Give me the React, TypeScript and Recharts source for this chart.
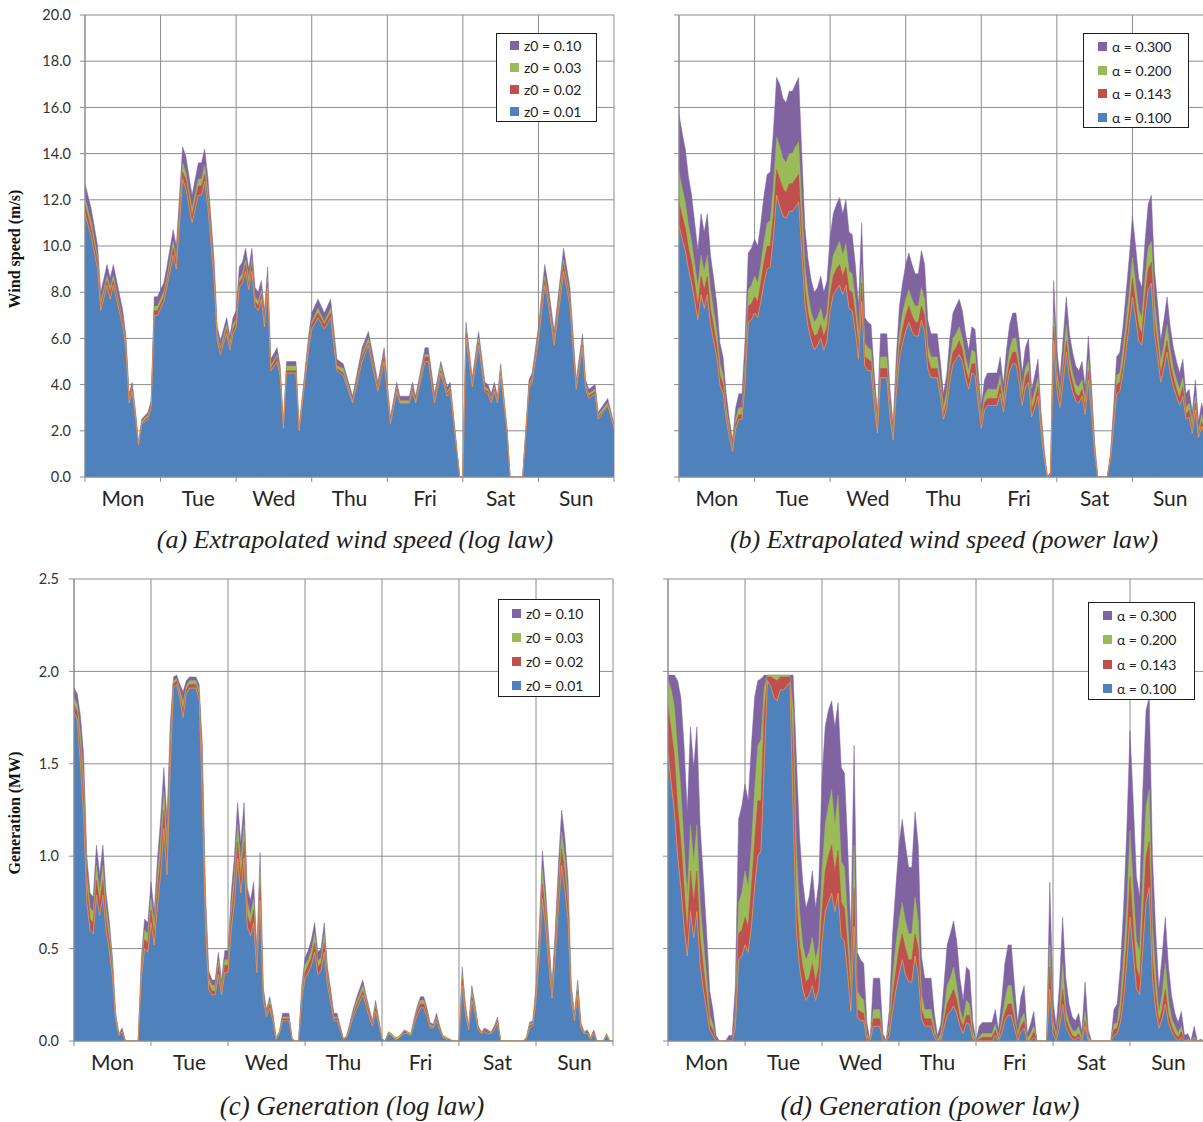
import React from 'react';
import { AreaChart, Area, XAxis, YAxis, CartesianGrid, Legend } from 'recharts';

// one week on the x axis, hours 0..168
const DAYS = ['Mon', 'Tue', 'Wed', 'Thu', 'Fri', 'Sat', 'Sun'];
const DAY_TICKS = [0, 24, 48, 72, 96, 120, 144, 168];
const HOURS = Array.from({ length: 169 }, (_, i) => i);
const SPEED_TICKS = [0, 2, 4, 6, 8, 10, 12, 14, 16, 18, 20];
const GEN_TICKS = [0, 0.5, 1, 1.5, 2, 2.5];

const LOG_NAMES = ['z0 = 0.10', 'z0 = 0.03', 'z0 = 0.02', 'z0 = 0.01'];
const POW_NAMES = ['α = 0.300', 'α = 0.200', 'α = 0.143', 'α = 0.100'];
const COLORS = ['#8064A2', '#9BBB59', '#C0504D', '#4F81BD'];
const EDGE = '#F79646';
const GRID = '#8c8c8c';
const FONT = 'Lato, "Open Sans", sans-serif';

// (a) wind speed, log law (m/s)
const hoursA = [0, 2, 4, 5, 7, 8, 9, 12, 13, 14, 15, 16, 17, 18, 20, 21, 22, 23, 25, 26, 28, 29, 31, 32, 34, 36, 37, 38, 39, 41,
  42, 43, 44, 45, 46, 47, 48, 49, 50, 51, 52, 53, 54, 55, 56, 57, 58, 59, 61, 62, 63, 64, 67, 68, 71, 72, 74, 76, 78, 80,
  82, 85, 88, 90, 91, 93, 95, 97, 99, 100, 103, 104, 105, 107, 108, 109, 111, 113, 115, 116, 119, 120, 121, 123, 125, 127, 128, 129, 130, 131,
  132, 134, 135, 139, 141, 142, 144, 146, 147, 149, 151, 152, 154, 156, 158, 159, 160, 162, 163, 166, 168];
const a010 = [12.7, 11.6, 10.0, 8.0, 9.2, 8.6, 9.2, 7.2, 6.1, 3.6, 4.1, 2.9, 1.5, 2.5, 2.8, 3.3, 7.8, 7.8, 8.4, 9.1,
  10.7, 10.0, 14.3, 13.9, 12.2, 13.6, 13.6, 14.2, 13.0, 9.4, 6.5, 5.9, 6.4, 6.9, 6.1, 6.9, 7.2, 9.1, 9.3, 9.9,
  9.0, 9.9, 8.2, 8.0, 8.5, 7.2, 9.1, 5.1, 5.6, 4.8, 2.3, 5.0, 5.0, 2.2, 6.1, 7.1, 7.7, 7.1, 7.7, 5.1,
  4.9, 3.5, 5.6, 6.3, 5.6, 4.1, 5.6, 2.6, 4.1, 3.5, 3.5, 4.1, 3.5, 4.9, 5.6, 5.6, 3.6, 5.0, 3.9, 4.1,
  0, 0, 6.7, 4.3, 6.3, 4.1, 4.0, 3.6, 4.1, 3.5, 4.9, 2.2, 0, 0, 4.2, 4.5, 6.5, 9.2, 8.4, 6.3,
  8.7, 9.9, 8.2, 4.2, 6.2, 4.2, 3.8, 4.0, 2.8, 3.4, 2.3];
const a003 = [12.1, 11.0, 9.5, 7.6, 8.7, 8.2, 8.7, 6.8, 5.8, 3.4, 3.9, 2.8, 1.4, 2.4, 2.7, 3.1, 7.4, 7.4, 8.0, 8.6,
  10.2, 9.5, 13.6, 13.2, 11.6, 12.9, 12.9, 13.5, 12.4, 8.9, 6.2, 5.6, 6.1, 6.6, 5.8, 6.6, 6.8, 8.6, 8.8, 9.4,
  8.6, 9.4, 7.8, 7.6, 8.1, 6.8, 8.6, 4.8, 5.3, 4.6, 2.2, 4.8, 4.8, 2.1, 5.8, 6.7, 7.3, 6.7, 7.3, 4.8,
  4.7, 3.3, 5.3, 6.0, 5.3, 3.9, 5.3, 2.5, 3.9, 3.3, 3.3, 3.9, 3.3, 4.7, 5.3, 5.3, 3.4, 4.8, 3.7, 3.9,
  0, 0, 6.4, 4.1, 6.0, 3.9, 3.8, 3.4, 3.9, 3.3, 4.7, 2.1, 0, 0, 4.0, 4.3, 6.2, 8.7, 8.0, 6.0,
  8.3, 9.4, 7.8, 4.0, 5.9, 4.0, 3.6, 3.8, 2.7, 3.2, 2.2];
const a002 = [11.8, 10.7, 9.3, 7.4, 8.5, 8.0, 8.5, 6.7, 5.6, 3.3, 3.8, 2.7, 1.4, 2.3, 2.6, 3.1, 7.2, 7.2, 7.8, 8.4,
  9.9, 9.3, 13.2, 12.9, 11.3, 12.6, 12.6, 13.1, 12.0, 8.7, 6.0, 5.5, 5.9, 6.4, 5.6, 6.4, 6.7, 8.4, 8.6, 9.2,
  8.3, 9.2, 7.6, 7.4, 7.9, 6.7, 8.4, 4.7, 5.2, 4.4, 2.1, 4.6, 4.6, 2.0, 5.6, 6.6, 7.1, 6.6, 7.1, 4.7,
  4.5, 3.2, 5.2, 5.8, 5.2, 3.8, 5.2, 2.4, 3.8, 3.2, 3.2, 3.8, 3.2, 4.5, 5.2, 5.2, 3.3, 4.6, 3.6, 3.8,
  0, 0, 6.2, 4.0, 5.8, 3.8, 3.7, 3.3, 3.8, 3.2, 4.5, 2.0, 0, 0, 3.9, 4.2, 6.0, 8.5, 7.8, 5.8,
  8.0, 9.2, 7.6, 3.9, 5.7, 3.9, 3.5, 3.7, 2.6, 3.1, 2.1];
const a001 = [11.4, 10.4, 9.0, 7.2, 8.3, 7.7, 8.3, 6.5, 5.5, 3.2, 3.7, 2.6, 1.4, 2.3, 2.5, 3.0, 7.0, 7.0, 7.6, 8.2,
  9.6, 9.0, 12.9, 12.5, 11.0, 12.2, 12.2, 12.8, 11.7, 8.5, 5.9, 5.3, 5.8, 6.2, 5.5, 6.2, 6.5, 8.2, 8.4, 8.9,
  8.1, 8.9, 7.4, 7.2, 7.7, 6.5, 8.2, 4.6, 5.0, 4.3, 2.1, 4.5, 4.5, 2.0, 5.5, 6.4, 6.9, 6.4, 6.9, 4.6,
  4.4, 3.2, 5.0, 5.7, 5.0, 3.7, 5.0, 2.3, 3.7, 3.2, 3.2, 3.7, 3.2, 4.4, 5.0, 5.0, 3.2, 4.5, 3.5, 3.7,
  0, 0, 6.0, 3.9, 5.7, 3.7, 3.6, 3.2, 3.7, 3.2, 4.4, 2.0, 0, 0, 3.8, 4.1, 5.9, 8.3, 7.6, 5.7,
  7.8, 8.9, 7.4, 3.8, 5.6, 3.8, 3.4, 3.6, 2.5, 3.1, 2.1];

// (b) wind speed, power law (m/s), hourly
const b300 = [15.7, 14.9, 14.2, 13.0, 12.2, 11.0, 9.8, 11.4, 10.6, 11.4, 9.6, 8.6, 7.5, 5.8, 5.2, 3.6, 2.5, 1.6, 3.0, 3.6,
  3.6, 6.0, 9.7, 9.9, 10.3, 10.0, 11.0, 12.2, 13.1, 13.2, 15.0, 17.3, 17.0, 16.4, 16.2, 16.7, 16.7, 17.0, 17.3, 14.0,
  10.8, 9.4, 8.5, 8.0, 8.2, 8.7, 8.0, 8.5, 10.4, 11.4, 11.8, 12.1, 11.4, 12.0, 10.6, 10.5, 9.2, 7.4, 11.0, 6.9,
  6.7, 6.6, 4.5, 2.8, 6.2, 6.2, 6.2, 3.8, 2.3, 5.2, 7.4, 8.4, 9.2, 9.7, 9.2, 8.8, 8.8, 9.8, 9.2, 6.8,
  6.2, 6.2, 6.2, 5.0, 3.6, 4.4, 6.0, 7.1, 7.4, 7.7, 7.2, 6.2, 5.5, 6.5, 6.4, 4.6, 3.0, 4.2, 4.5, 4.5,
  4.5, 4.5, 5.2, 4.0, 5.5, 6.6, 7.1, 7.1, 6.0, 4.5, 5.6, 6.0, 3.8, 4.4, 5.1, 2.8, 1.2, 0, 0.2, 8.5,
  5.5, 4.3, 6.0, 7.8, 6.2, 5.4, 4.8, 4.6, 5.0, 3.9, 6.1, 4.0, 1.5, 0, 0, 0, 0, 1.0, 3.0, 5.2,
  5.4, 6.5, 8.0, 9.5, 11.3, 10.0, 8.6, 8.2, 10.2, 11.8, 12.2, 9.0, 7.5, 5.9, 6.8, 7.8, 6.5, 5.6, 5.0, 4.5,
  5.1, 3.6, 3.8, 2.8, 4.2, 2.4, 3.2, 2.6, 2.4];
const b200 = [13.2, 12.5, 11.9, 10.9, 10.2, 9.2, 8.2, 9.6, 8.9, 9.6, 8.1, 7.2, 6.3, 4.9, 4.4, 3.0, 2.1, 1.3, 2.5, 3.0,
  3.0, 5.0, 8.1, 8.3, 8.7, 8.4, 9.2, 10.2, 11.0, 11.1, 12.6, 14.7, 14.3, 13.8, 13.6, 14.0, 14.0, 14.3, 14.5, 11.8,
  9.1, 7.9, 7.1, 6.7, 6.9, 7.3, 6.7, 7.1, 8.7, 9.6, 9.9, 10.2, 9.6, 10.1, 8.9, 8.8, 7.7, 6.2, 9.2, 5.8,
  5.6, 5.5, 3.8, 2.4, 5.2, 5.2, 5.2, 3.2, 1.9, 4.4, 6.2, 7.1, 7.7, 8.1, 7.7, 7.4, 7.4, 8.2, 7.7, 5.7,
  5.2, 5.2, 5.2, 4.2, 3.0, 3.7, 5.0, 6.0, 6.2, 6.5, 6.0, 5.2, 4.6, 5.5, 5.4, 3.9, 2.5, 3.5, 3.8, 3.8,
  3.8, 3.8, 4.4, 3.4, 4.6, 5.5, 6.0, 6.0, 5.0, 3.8, 4.7, 5.0, 3.2, 3.7, 4.3, 2.4, 1.0, 0, 0.2, 7.1,
  4.6, 3.6, 5.0, 6.6, 5.2, 4.5, 4.0, 3.9, 4.2, 3.3, 5.1, 3.4, 1.3, 0, 0, 0, 0, 0.8, 2.5, 4.4,
  4.5, 5.5, 6.7, 8.0, 9.5, 8.4, 7.2, 6.9, 8.6, 9.9, 10.2, 7.6, 6.3, 5.0, 5.7, 6.6, 5.5, 4.7, 4.2, 3.8,
  4.3, 3.0, 3.2, 2.4, 3.5, 2.0, 2.7, 2.2, 2.0];
const b143 = [11.9, 11.3, 10.8, 9.9, 9.3, 8.4, 7.4, 8.7, 8.1, 8.7, 7.3, 6.5, 5.7, 4.4, 4.0, 2.7, 1.9, 1.2, 2.3, 2.7,
  2.7, 4.6, 7.4, 7.5, 7.8, 7.6, 8.4, 9.3, 10.0, 10.0, 11.4, 13.3, 12.9, 12.5, 12.3, 12.7, 12.7, 12.9, 13.1, 10.6,
  8.2, 7.1, 6.5, 6.1, 6.2, 6.6, 6.1, 6.5, 7.9, 8.7, 9.0, 9.2, 8.7, 9.1, 8.1, 8.0, 7.0, 5.6, 8.4, 5.2,
  5.1, 5.0, 3.4, 2.1, 4.7, 4.7, 4.7, 2.9, 1.7, 4.0, 5.6, 6.4, 7.0, 7.4, 7.0, 6.7, 6.7, 7.4, 7.0, 5.2,
  4.7, 4.7, 4.7, 3.8, 2.7, 3.3, 4.6, 5.4, 5.6, 5.9, 5.5, 4.7, 4.2, 4.9, 4.9, 3.5, 2.3, 3.2, 3.4, 3.4,
  3.4, 3.4, 4.0, 3.0, 4.2, 5.0, 5.4, 5.4, 4.6, 3.4, 4.3, 4.6, 2.9, 3.3, 3.9, 2.1, 0.9, 0, 0.2, 6.5,
  4.2, 3.3, 4.6, 5.9, 4.7, 4.1, 3.6, 3.5, 3.8, 3.0, 4.6, 3.0, 1.1, 0, 0, 0, 0, 0.8, 2.3, 4.0,
  4.1, 4.9, 6.1, 7.2, 8.6, 7.6, 6.5, 6.2, 7.8, 9.0, 9.3, 6.8, 5.7, 4.5, 5.2, 5.9, 4.9, 4.3, 3.8, 3.4,
  3.9, 2.7, 2.9, 2.1, 3.2, 1.8, 2.4, 2.0, 1.8];
const b100 = [10.9, 10.3, 9.8, 9.0, 8.4, 7.6, 6.8, 7.9, 7.3, 7.9, 6.6, 5.9, 5.2, 4.0, 3.6, 2.5, 1.7, 1.1, 2.1, 2.5,
  2.5, 4.1, 6.7, 6.8, 7.1, 6.9, 7.6, 8.4, 9.0, 9.1, 10.4, 12.2, 11.7, 11.3, 11.2, 11.5, 11.5, 11.7, 11.9, 9.7,
  7.5, 6.5, 5.9, 5.5, 5.7, 6.0, 5.5, 5.9, 7.2, 7.9, 8.1, 8.3, 7.9, 8.3, 7.3, 7.2, 6.3, 5.1, 7.6, 4.8,
  4.6, 4.6, 3.1, 1.9, 4.3, 4.3, 4.3, 2.6, 1.6, 3.6, 5.1, 5.8, 6.3, 6.7, 6.3, 6.1, 6.1, 6.8, 6.3, 4.7,
  4.3, 4.3, 4.3, 3.5, 2.5, 3.0, 4.1, 4.9, 5.1, 5.3, 5.0, 4.3, 3.8, 4.5, 4.4, 3.2, 2.1, 2.9, 3.1, 3.1,
  3.1, 3.1, 3.6, 2.8, 3.8, 4.6, 4.9, 4.9, 4.1, 3.1, 3.9, 4.1, 2.6, 3.0, 3.5, 1.9, 0.8, 0, 0.1, 5.9,
  3.8, 3.0, 4.1, 5.4, 4.3, 3.7, 3.3, 3.2, 3.5, 2.7, 4.2, 2.8, 1.0, 0, 0, 0, 0, 0.7, 2.1, 3.6,
  3.7, 4.5, 5.5, 6.6, 7.8, 6.9, 5.9, 5.7, 7.0, 8.1, 8.4, 6.2, 5.2, 4.1, 4.7, 5.4, 4.5, 3.9, 3.5, 3.1,
  3.5, 2.5, 2.6, 1.9, 2.9, 1.7, 2.2, 1.8, 1.7];

// (c) generation, log law (MW), hourly
const c010 = [1.91, 1.88, 1.76, 1.55, 1.0, 0.8, 0.78, 1.06, 0.9, 1.06, 0.8, 0.65, 0.45, 0.15, 0.04, 0.07, 0, 0, 0, 0,
  0, 0.45, 0.66, 0.64, 0.86, 0.7, 0.98, 1.2, 1.48, 1.2, 1.72, 1.97, 1.98, 1.93, 1.89, 1.95, 1.97, 1.97, 1.97, 1.93,
  1.6, 0.8, 0.38, 0.33, 0.33, 0.48, 0.33, 0.49, 0.49, 0.8, 1.0, 1.29, 1.07, 1.29, 0.83, 0.76, 0.86, 0.49, 1.02, 0.29,
  0.17, 0.24, 0.15, 0.02, 0.05, 0.15, 0.15, 0.15, 0.01, 0, 0, 0.3, 0.45, 0.49, 0.55, 0.64, 0.48, 0.5, 0.64, 0.4,
  0.28, 0.15, 0.15, 0.08, 0.01, 0.03, 0.1, 0.17, 0.23, 0.28, 0.33, 0.25, 0.18, 0.11, 0.22, 0.12, 0.01, 0, 0.05, 0.04,
  0.02, 0.02, 0.04, 0.06, 0.05, 0.04, 0.12, 0.19, 0.24, 0.24, 0.18, 0.1, 0.09, 0.15, 0.08, 0.03, 0.02, 0.01, 0, 0,
  0, 0.4, 0.2, 0.08, 0.3, 0.2, 0.08, 0.05, 0.07, 0.06, 0.05, 0.08, 0.13, 0, 0, 0, 0, 0, 0, 0,
  0, 0.02, 0.1, 0.11, 0.3, 0.6, 1.03, 0.82, 0.55, 0.31, 0.6, 0.96, 1.25, 1.1, 0.87, 0.3, 0.15, 0.33, 0.1, 0.05,
  0.06, 0.02, 0.06, 0, 0, 0, 0.04, 0, 0];
const c003 = [1.86, 1.82, 1.66, 1.42, 0.9, 0.72, 0.7, 0.95, 0.81, 0.95, 0.72, 0.59, 0.41, 0.13, 0.04, 0.06, 0, 0, 0, 0,
  0, 0.41, 0.6, 0.58, 0.77, 0.63, 0.88, 1.08, 1.35, 1.08, 1.62, 1.95, 1.96, 1.9, 1.83, 1.92, 1.95, 1.95, 1.95, 1.9,
  1.48, 0.72, 0.34, 0.3, 0.3, 0.43, 0.3, 0.44, 0.44, 0.72, 0.9, 1.17, 0.96, 1.17, 0.75, 0.68, 0.77, 0.44, 0.92, 0.26,
  0.15, 0.22, 0.13, 0.02, 0.05, 0.13, 0.13, 0.13, 0.01, 0, 0, 0.27, 0.41, 0.44, 0.49, 0.58, 0.43, 0.45, 0.58, 0.36,
  0.25, 0.13, 0.13, 0.07, 0.01, 0.03, 0.09, 0.15, 0.21, 0.25, 0.3, 0.23, 0.16, 0.1, 0.2, 0.11, 0.01, 0, 0.05, 0.04,
  0.02, 0.02, 0.04, 0.05, 0.05, 0.04, 0.11, 0.17, 0.22, 0.22, 0.16, 0.09, 0.08, 0.13, 0.07, 0.03, 0.02, 0.01, 0, 0,
  0, 0.36, 0.18, 0.07, 0.27, 0.18, 0.07, 0.05, 0.06, 0.05, 0.05, 0.07, 0.12, 0, 0, 0, 0, 0, 0, 0,
  0, 0.02, 0.09, 0.1, 0.27, 0.54, 0.93, 0.74, 0.49, 0.28, 0.54, 0.86, 1.13, 0.99, 0.78, 0.27, 0.13, 0.3, 0.09, 0.05,
  0.05, 0.02, 0.05, 0, 0, 0, 0.04, 0, 0];
const c002 = [1.82, 1.78, 1.58, 1.32, 0.83, 0.66, 0.64, 0.87, 0.75, 0.87, 0.66, 0.54, 0.37, 0.12, 0.03, 0.06, 0, 0, 0, 0,
  0, 0.37, 0.55, 0.53, 0.71, 0.57, 0.81, 0.99, 1.25, 0.99, 1.55, 1.93, 1.95, 1.87, 1.79, 1.9, 1.93, 1.93, 1.93, 1.87,
  1.39, 0.66, 0.31, 0.27, 0.27, 0.4, 0.27, 0.41, 0.41, 0.66, 0.83, 1.08, 0.88, 1.08, 0.68, 0.63, 0.71, 0.41, 0.84, 0.24,
  0.14, 0.2, 0.12, 0.01, 0.04, 0.12, 0.12, 0.12, 0.01, 0, 0, 0.24, 0.37, 0.41, 0.45, 0.53, 0.4, 0.42, 0.53, 0.33,
  0.23, 0.12, 0.12, 0.07, 0.01, 0.02, 0.08, 0.14, 0.19, 0.23, 0.27, 0.21, 0.15, 0.09, 0.18, 0.1, 0.01, 0, 0.04, 0.03,
  0.01, 0.01, 0.03, 0.05, 0.04, 0.03, 0.1, 0.16, 0.2, 0.2, 0.15, 0.08, 0.07, 0.12, 0.07, 0.02, 0.01, 0.01, 0, 0,
  0, 0.33, 0.16, 0.07, 0.24, 0.16, 0.07, 0.04, 0.06, 0.05, 0.04, 0.07, 0.11, 0, 0, 0, 0, 0, 0, 0,
  0, 0.01, 0.08, 0.09, 0.24, 0.5, 0.85, 0.67, 0.45, 0.25, 0.5, 0.79, 1.04, 0.9, 0.72, 0.24, 0.12, 0.27, 0.08, 0.04,
  0.05, 0.01, 0.05, 0, 0, 0, 0.03, 0, 0];
const c001 = [1.78, 1.74, 1.5, 1.22, 0.75, 0.6, 0.58, 0.79, 0.68, 0.79, 0.6, 0.49, 0.34, 0.11, 0.03, 0.05, 0, 0, 0, 0,
  0, 0.34, 0.5, 0.48, 0.64, 0.52, 0.73, 0.9, 1.15, 0.9, 1.48, 1.91, 1.93, 1.85, 1.75, 1.88, 1.91, 1.91, 1.91, 1.85,
  1.3, 0.6, 0.28, 0.25, 0.25, 0.36, 0.25, 0.37, 0.37, 0.6, 0.75, 0.99, 0.8, 0.99, 0.62, 0.57, 0.64, 0.37, 0.76, 0.22,
  0.13, 0.18, 0.11, 0.01, 0.04, 0.11, 0.11, 0.11, 0.01, 0, 0, 0.22, 0.34, 0.37, 0.41, 0.48, 0.36, 0.38, 0.48, 0.3,
  0.21, 0.11, 0.11, 0.06, 0.01, 0.02, 0.07, 0.13, 0.17, 0.21, 0.25, 0.19, 0.13, 0.08, 0.16, 0.09, 0.01, 0, 0.04, 0.03,
  0.01, 0.01, 0.03, 0.04, 0.04, 0.03, 0.09, 0.14, 0.18, 0.18, 0.13, 0.07, 0.07, 0.11, 0.06, 0.02, 0.01, 0.01, 0, 0,
  0, 0.3, 0.15, 0.06, 0.22, 0.15, 0.06, 0.04, 0.05, 0.04, 0.04, 0.06, 0.1, 0, 0, 0, 0, 0, 0, 0,
  0, 0.01, 0.07, 0.08, 0.22, 0.45, 0.77, 0.61, 0.41, 0.23, 0.45, 0.72, 0.95, 0.82, 0.65, 0.22, 0.11, 0.25, 0.07, 0.04,
  0.04, 0.01, 0.04, 0, 0, 0, 0.03, 0, 0];

// (d) generation, power law (MW), hourly
const d300 = [1.98, 1.98, 1.98, 1.95, 1.86, 1.6, 1.24, 1.7, 1.48, 1.7, 1.17, 0.89, 0.6, 0.27, 0.17, 0.03, 0, 0, 0, 0.03,
  0.03, 0.3, 1.2, 1.27, 1.39, 1.3, 1.6, 1.86, 1.95, 1.96, 1.98, 1.98, 1.98, 1.98, 1.98, 1.98, 1.98, 1.98, 1.98, 1.98,
  1.54, 1.11, 0.86, 0.72, 0.78, 0.92, 0.72, 0.86, 1.42, 1.7, 1.79, 1.84, 1.7, 1.83, 1.48, 1.45, 1.06, 0.58, 1.6, 0.48,
  0.44, 0.42, 0.1, 0, 0.34, 0.34, 0.34, 0.04, 0, 0.17, 0.58, 0.83, 1.06, 1.2, 1.06, 0.94, 0.94, 1.24, 1.06, 0.46,
  0.34, 0.34, 0.34, 0.15, 0.03, 0.09, 0.3, 0.52, 0.58, 0.65, 0.54, 0.34, 0.22, 0.4, 0.38, 0.11, 0, 0.08, 0.1, 0.1,
  0.1, 0.1, 0.17, 0.06, 0.22, 0.42, 0.52, 0.52, 0.3, 0.1, 0.24, 0.3, 0.04, 0.09, 0.16, 0, 0, 0, 0, 0.86,
  0.22, 0.08, 0.3, 0.67, 0.34, 0.2, 0.13, 0.11, 0.15, 0.05, 0.32, 0.06, 0, 0, 0, 0, 0, 0, 0, 0.17,
  0.2, 0.4, 0.72, 1.14, 1.68, 1.3, 0.89, 0.78, 1.36, 1.79, 1.86, 1.0, 0.6, 0.28, 0.46, 0.67, 0.4, 0.24, 0.15, 0.1,
  0.16, 0.03, 0.04, 0, 0.08, 0, 0.01, 0, 0];
const d200 = [1.96, 1.9, 1.81, 1.57, 1.36, 1.06, 0.78, 1.17, 0.97, 1.17, 0.75, 0.54, 0.36, 0.14, 0.09, 0, 0, 0, 0, 0,
  0, 0.15, 0.75, 0.8, 0.92, 0.83, 1.06, 1.36, 1.6, 1.63, 1.91, 1.98, 1.98, 1.98, 1.98, 1.98, 1.98, 1.98, 1.98, 1.79,
  1.03, 0.7, 0.52, 0.44, 0.48, 0.56, 0.44, 0.52, 0.92, 1.17, 1.27, 1.36, 1.17, 1.33, 0.97, 0.94, 0.65, 0.34, 1.06, 0.27,
  0.24, 0.22, 0.04, 0, 0.17, 0.17, 0.17, 0.01, 0, 0.09, 0.34, 0.52, 0.65, 0.75, 0.65, 0.58, 0.58, 0.78, 0.65, 0.25,
  0.17, 0.17, 0.17, 0.08, 0, 0.04, 0.15, 0.3, 0.34, 0.4, 0.3, 0.17, 0.11, 0.22, 0.2, 0.05, 0, 0.02, 0.04, 0.04,
  0.04, 0.04, 0.09, 0.02, 0.11, 0.22, 0.3, 0.3, 0.15, 0.04, 0.12, 0.15, 0.01, 0.04, 0.08, 0, 0, 0, 0, 0.52,
  0.11, 0.03, 0.15, 0.42, 0.17, 0.1, 0.06, 0.05, 0.08, 0.01, 0.16, 0.02, 0, 0, 0, 0, 0, 0, 0, 0.09,
  0.1, 0.22, 0.44, 0.72, 1.14, 0.83, 0.54, 0.48, 0.89, 1.27, 1.36, 0.62, 0.36, 0.15, 0.25, 0.42, 0.22, 0.12, 0.08, 0.04,
  0.08, 0, 0.01, 0, 0.02, 0, 0, 0, 0];
const d143 = [1.81, 1.68, 1.54, 1.27, 1.08, 0.83, 0.58, 0.92, 0.75, 0.92, 0.56, 0.4, 0.25, 0.09, 0.06, 0, 0, 0, 0, 0,
  0, 0.11, 0.58, 0.6, 0.67, 0.62, 0.83, 1.08, 1.3, 1.3, 1.78, 1.97, 1.97, 1.96, 1.95, 1.97, 1.97, 1.97, 1.97, 1.55,
  0.78, 0.52, 0.4, 0.32, 0.34, 0.42, 0.32, 0.4, 0.7, 0.92, 1.0, 1.06, 0.92, 1.03, 0.75, 0.72, 0.5, 0.24, 0.83, 0.17,
  0.16, 0.15, 0.02, 0, 0.12, 0.12, 0.12, 0, 0, 0.06, 0.24, 0.38, 0.5, 0.58, 0.5, 0.44, 0.44, 0.58, 0.5, 0.17,
  0.12, 0.12, 0.12, 0.04, 0, 0.01, 0.11, 0.2, 0.24, 0.28, 0.22, 0.12, 0.08, 0.14, 0.14, 0.02, 0, 0.01, 0.02, 0.02,
  0.02, 0.02, 0.06, 0, 0.08, 0.15, 0.2, 0.2, 0.11, 0.02, 0.08, 0.11, 0, 0.01, 0.05, 0, 0, 0, 0, 0.4,
  0.08, 0.01, 0.11, 0.28, 0.12, 0.07, 0.03, 0.02, 0.04, 0, 0.11, 0, 0, 0, 0, 0, 0, 0, 0, 0.06,
  0.07, 0.14, 0.32, 0.54, 0.89, 0.62, 0.4, 0.34, 0.67, 1.0, 1.08, 0.46, 0.25, 0.1, 0.17, 0.28, 0.14, 0.08, 0.04, 0.02,
  0.05, 0, 0, 0, 0.01, 0, 0, 0, 0];
const d100 = [1.57, 1.39, 1.24, 1.0, 0.83, 0.62, 0.46, 0.7, 0.56, 0.7, 0.42, 0.28, 0.17, 0.06, 0.03, 0, 0, 0, 0, 0,
  0, 0.07, 0.44, 0.46, 0.52, 0.48, 0.62, 0.83, 1.0, 1.03, 1.5, 1.95, 1.92, 1.86, 1.84, 1.9, 1.9, 1.92, 1.94, 1.25,
  0.6, 0.4, 0.28, 0.22, 0.25, 0.3, 0.22, 0.28, 0.54, 0.7, 0.75, 0.8, 0.7, 0.8, 0.56, 0.54, 0.36, 0.16, 0.62, 0.13,
  0.11, 0.11, 0, 0, 0.08, 0.08, 0.08, 0, 0, 0.03, 0.16, 0.27, 0.36, 0.44, 0.36, 0.32, 0.32, 0.46, 0.36, 0.12,
  0.08, 0.08, 0.08, 0.02, 0, 0, 0.07, 0.14, 0.16, 0.19, 0.15, 0.08, 0.04, 0.1, 0.09, 0.01, 0, 0, 0, 0,
  0, 0, 0.03, 0, 0.04, 0.11, 0.14, 0.14, 0.07, 0, 0.05, 0.07, 0, 0, 0.02, 0, 0, 0, 0, 0.28,
  0.04, 0, 0.07, 0.2, 0.08, 0.04, 0.01, 0.01, 0.02, 0, 0.08, 0, 0, 0, 0, 0, 0, 0, 0, 0.03,
  0.04, 0.1, 0.22, 0.42, 0.67, 0.48, 0.28, 0.25, 0.5, 0.75, 0.83, 0.34, 0.17, 0.07, 0.12, 0.2, 0.1, 0.05, 0.02, 0,
  0.02, 0, 0, 0, 0, 0, 0, 0, 0];

type Box = { left: number; top: number; width: number; height: number; pad: number; row: number; indent: number };

const LegendBox = ({ names, box }: { names: string[]; box: Box }) => (
  <div style={{ width: box.width, height: box.height, boxSizing: 'border-box', border: '1px solid #1e1e1e', background: '#fff', paddingTop: box.pad, paddingLeft: box.indent }}>
    {names.map((n, k) => (
      <div key={n} style={{ height: box.row, display: 'flex', alignItems: 'center', fontFamily: FONT, fontSize: 14, color: '#222', whiteSpace: 'nowrap' }}>
        <span style={{ display: 'inline-block', width: 9, height: 9, background: COLORS[k], marginRight: 5 }} />
        {n}
      </div>
    ))}
  </div>
);

const DayTick = ({ x, y, payload, half }: any) => {
  const day = DAYS[payload.value / 24];
  if (!day) return <g />;
  return (
    <text x={x + half} y={y} dy={22} textAnchor="middle" fontSize={21} fontFamily={FONT} fill="#262626">{day}</text>
  );
};

type PanelProps = {
  hours: number[];
  series: number[][]; // drawn back to front: largest first
  names: string[];
  pos: { left: number; top: number; width: number; height: number };
  margin: { top: number; right: number; bottom: number; left: number };
  yWidth: number;
  yMax: number;
  yTicks: number[];
  yLabels: boolean;
  yMargin: number;
  half: number;
  box: Box;
};

const Panel = ({ hours, series, names, pos, margin, yWidth, yMax, yTicks, yLabels, yMargin, half, box }: PanelProps) => {
  const data = hours.map((h, i) => {
    const row: Record<string, number> = { h };
    series.forEach((s, k) => { row['s' + k] = s[i]; });
    return row;
  });
  return (
    <div style={{ position: 'absolute', left: pos.left, top: pos.top }}>
      <AreaChart width={pos.width} height={pos.height} data={data} margin={margin}>
        <CartesianGrid stroke={GRID} />
        <XAxis
          type="number"
          dataKey="h"
          domain={[0, 168]}
          ticks={DAY_TICKS}
          interval={0}
          height={40}
          tickSize={5}
          stroke={GRID}
          tick={(p: any) => <DayTick {...p} half={half} />}
        />
        <YAxis
          type="number"
          domain={[0, yMax]}
          ticks={yTicks}
          interval={0}
          width={yWidth}
          tickSize={5}
          tickMargin={yMargin}
          stroke={GRID}
          allowDataOverflow
          tickFormatter={(v: number) => (yLabels ? v.toFixed(1) : '')}
          tick={{ fill: '#333', fontSize: 14.5, fontFamily: FONT }}
        />
        {series.map((_, k) => (
          <Area
            key={k}
            type="linear"
            dataKey={'s' + k}
            fill={COLORS[k]}
            fillOpacity={1}
            stroke={k === 3 ? EDGE : COLORS[k]}
            strokeWidth={k === 3 ? 0.8 : 0.5}
            dot={false}
            activeDot={false}
            isAnimationActive={false}
          />
        ))}
        <Legend
          layout="horizontal"
          verticalAlign="middle"
          align="center"
          wrapperStyle={{ left: box.left, top: box.top, width: box.width, height: box.height }}
          content={() => <LegendBox names={names} box={box} />}
        />
      </AreaChart>
    </div>
  );
};

const caption: React.CSSProperties = {
  position: 'absolute', transform: 'translateX(-50%)', whiteSpace: 'nowrap',
  fontFamily: '"Liberation Serif", "DejaVu Serif", serif', fontStyle: 'italic', lineHeight: '30px', color: '#1e1e1e',
};
const yTitle: React.CSSProperties = {
  position: 'absolute', transform: 'translate(-50%, -50%) rotate(-90deg)', whiteSpace: 'nowrap',
  fontFamily: '"Liberation Serif", "DejaVu Serif", serif', fontWeight: 'bold', fontSize: 16, color: '#111',
};

export default function App() {
  return (
    <div style={{ position: 'absolute', left: 0, top: 0, width: 1203, height: 1122, overflow: 'hidden', background: '#fff' }}>
      <Panel
        hours={hoursA} series={[a010, a003, a002, a001]} names={LOG_NAMES}
        pos={{ left: 0, top: 0, width: 619, height: 517 }}
        margin={{ top: 15, right: 5, bottom: 0, left: 30 }}
        yWidth={55} yMax={20} yTicks={SPEED_TICKS} yLabels yMargin={9} half={529 / 14}
        box={{ left: 496, top: 33, width: 101, height: 89, pad: 0, row: 22, indent: 13 }}
      />
      <Panel
        hours={HOURS} series={[b300, b200, b143, b100]} names={POW_NAMES}
        pos={{ left: 634, top: 0, width: 574, height: 517 }}
        margin={{ top: 15, right: 0, bottom: 0, left: 0 }}
        yWidth={45} yMax={20} yTicks={SPEED_TICKS} yLabels={false} yMargin={9} half={529 / 14}
        box={{ left: 449, top: 33, width: 106, height: 95, pad: 1, row: 23.5, indent: 14 }}
      />
      <Panel
        hours={HOURS} series={[c010, c003, c002, c001]} names={LOG_NAMES}
        pos={{ left: 0, top: 560, width: 618, height: 521 }}
        margin={{ top: 19, right: 5, bottom: 0, left: 30 }}
        yWidth={44} yMax={2.5} yTicks={GEN_TICKS} yLabels yMargin={10} half={539 / 14}
        box={{ left: 498, top: 39, width: 102, height: 98, pad: 1, row: 24, indent: 13 }}
      />
      <Panel
        hours={HOURS} series={[d300, d200, d143, d100]} names={POW_NAMES}
        pos={{ left: 628, top: 560, width: 579, height: 521 }}
        margin={{ top: 19, right: 0, bottom: 0, left: 0 }}
        yWidth={40} yMax={2.5} yTicks={GEN_TICKS} yLabels={false} yMargin={10} half={539 / 14}
        box={{ left: 460, top: 42, width: 107, height: 98, pad: 0, row: 24.5, indent: 14 }}
      />
      <div style={{ ...yTitle, left: 15, top: 249 }}>Wind speed (m/s)</div>
      <div style={{ ...yTitle, left: 15, top: 813 }}>Generation (MW)</div>
      <div style={{ ...caption, fontSize: 26, left: 355, top: 525 }}>(a) Extrapolated wind speed (log law)</div>
      <div style={{ ...caption, fontSize: 26, left: 944, top: 525 }}>(b) Extrapolated wind speed (power law)</div>
      <div style={{ ...caption, fontSize: 27, left: 352, top: 1091 }}>(c) Generation (log law)</div>
      <div style={{ ...caption, fontSize: 27, left: 930, top: 1091 }}>(d) Generation (power law)</div>
    </div>
  );
}
